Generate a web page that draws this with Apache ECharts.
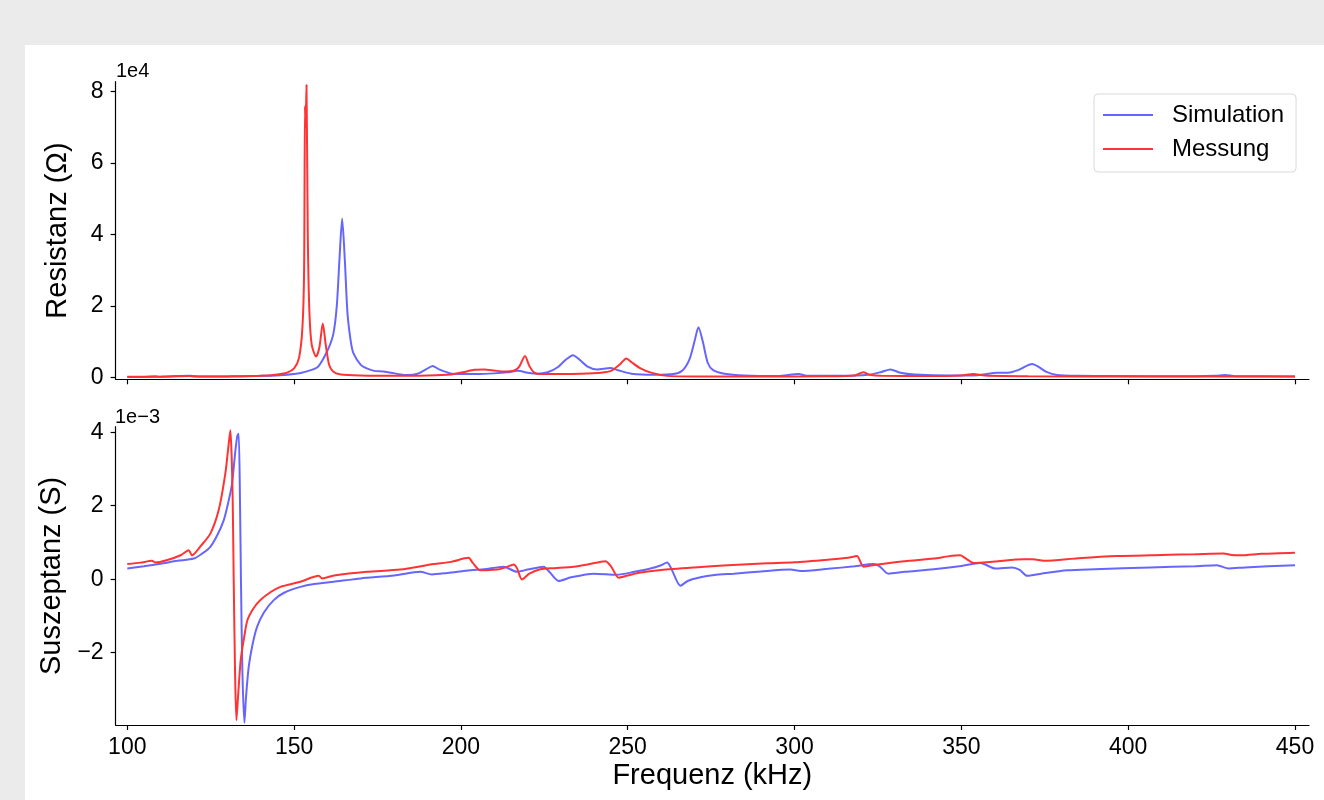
<!DOCTYPE html>
<html>
<head>
<meta charset="utf-8">
<title>Resistanz / Suszeptanz</title>
<script src="https://cdn.jsdelivr.net/npm/echarts@6/dist/echarts.min.js"></script>
<style>
  html, body { margin: 0; padding: 0; background: #ebebeb; }
  #chart { width: 1324px; height: 800px; }
</style>
</head>
<body>
<div id="chart"></div>
<script>
// Achsen-Ticks
const freqTicks = [100, 150, 200, 250, 300, 350, 400, 450]
const resTicks = [0, 20000, 40000, 60000, 80000]
const susTicks = [-2, 0, 2, 4] // in 1e-3 S

// Resistanz, Simulation (kHz / Ohm)
const resFreqSim = [100, 110, 118.9, 122, 130, 140, 146, 150, 152, 155, 157, 158.8, 160.5, 161.8, 162.8, 163.6, 164.4, 165.2, 166, 167, 167.8, 170, 171.8, 174, 176.8, 179, 182, 184, 187, 189.5, 191.5, 193.5, 196.8, 200, 205, 210, 214, 217, 220, 223, 226, 229, 231.5, 233.6, 235.5, 238, 240.8, 244.8, 247, 251.7, 258, 263.7, 266.5, 268.5, 270, 271.2, 272.5, 274, 275.6, 279, 285, 295, 301.2, 304, 315, 322, 326, 328.7, 331.7, 336, 346.7, 355, 360.7, 364, 367, 369.5, 371.2, 373, 375.5, 378.7, 385, 395, 420, 426, 429.1, 432, 450]
const resSim = [100, 150, 400, 200, 250, 400, 600, 900, 1200, 2000, 2800, 5300, 8500, 12300, 20000, 33000, 44500, 33000, 18000, 10000, 6700, 3500, 2500, 1800, 1600, 1300, 800, 650, 1000, 2200, 3200, 2200, 1100, 900, 900, 1100, 1400, 1800, 1300, 1000, 1400, 2800, 5000, 6200, 5000, 3000, 2200, 2600, 2000, 900, 700, 900, 2000, 5000, 10000, 14000, 10000, 4000, 2000, 1000, 500, 350, 900, 400, 400, 700, 1500, 2200, 1300, 800, 500, 600, 1300, 1300, 2000, 3200, 3700, 3000, 1500, 650, 400, 350, 300, 400, 650, 300, 250]

// Resistanz, Messung (kHz / Ohm)
const resFreqMeas = [100, 105, 108.4, 110, 118.8, 120, 130, 140, 145, 147.9, 150, 151.5, 152.5, 153.0, 153.27, 153.45, 153.72, 154.1, 154.6, 155.3, 156.6, 157.6, 158.6, 159.5, 160.5, 161.7, 164, 170, 180, 190, 197, 201, 204, 207, 210, 213, 216, 217.5, 219.2, 220.5, 222, 224, 230, 236, 242, 245, 247.5, 249.6, 251.2, 253.7, 257, 261.8, 270, 290, 310, 318, 320.6, 322.5, 326, 340, 350, 353.6, 357, 370, 400, 430, 450]
const resMeas = [150, 180, 300, 180, 350, 200, 250, 400, 800, 1300, 2500, 5500, 14000, 30000, 76000, 70000, 81900, 40000, 18000, 9000, 5800, 8500, 15100, 9000, 3500, 1600, 800, 500, 400, 500, 800, 1500, 2100, 2200, 1900, 1600, 1900, 3000, 6000, 3200, 1300, 900, 900, 1000, 1300, 1800, 3500, 5300, 4200, 2600, 1300, 400, 250, 250, 280, 500, 1400, 700, 400, 350, 500, 900, 500, 300, 250, 250, 200]

// Suszeptanz, Simulation (kHz / 1e-3 S)
const susFreqSim = [100, 105, 110, 115, 119.9, 122.5, 124.9, 127, 128.9, 130.3, 131.4, 132.4, 133.0, 133.4, 133.8, 134.1, 134.5, 135.1, 135.6, 136.4, 137.5, 138.9, 141, 143.9, 147, 151.9, 156, 161.8, 170, 180, 187.8, 191.3, 196, 202.8, 207, 212.8, 216.8, 220, 224.8, 226.5, 229.3, 233, 239.8, 246.8, 252, 256.8, 260, 261.8, 263, 265.8, 268, 271.8, 276, 281.8, 290, 298.8, 301.8, 310, 318, 323.6, 325.5, 328.1, 333, 341.7, 350, 355.7, 360.2, 365.2, 367.5, 369.7, 374, 381.7, 390, 406.7, 420, 426.6, 430.1, 435, 450]
const susSim = [0.29, 0.35, 0.42, 0.50, 0.56, 0.70, 0.88, 1.2, 1.6, 2.1, 2.6, 3.5, 3.9, 3.96, 2.0, -0.2, -2.5, -3.91, -3.2, -2.39, -1.8, -1.3, -0.9, -0.57, -0.37, -0.21, -0.13, -0.07, 0.02, 0.1, 0.2, 0.13, 0.17, 0.24, 0.27, 0.34, 0.20, 0.26, 0.34, 0.2, -0.05, 0.05, 0.15, 0.12, 0.2, 0.29, 0.38, 0.45, 0.3, -0.18, -0.05, 0.05, 0.11, 0.15, 0.21, 0.26, 0.22, 0.28, 0.35, 0.41, 0.35, 0.15, 0.20, 0.27, 0.36, 0.44, 0.29, 0.32, 0.25, 0.09, 0.15, 0.24, 0.27, 0.32, 0.35, 0.38, 0.29, 0.32, 0.38]

// Suszeptanz, Messung (kHz / 1e-3 S)
const susFreqMeas = [100, 104, 107.4, 108.5, 112, 116, 118.4, 119.4, 122, 124.9, 127.4, 129.4, 130.3, 130.9, 131.3, 131.6, 131.9, 132.3, 132.7, 133.2, 134, 135, 136, 137.8, 139.9, 143, 145.9, 151.9, 157.4, 158.4, 162, 171.8, 181.8, 191.8, 197, 202.3, 203.5, 205.8, 210.8, 213.5, 215.8, 216.8, 218.3, 220.5, 223.8, 228, 233.8, 238, 243.3, 245, 247.3, 250, 253.8, 260, 270, 280, 291.8, 300, 310, 316, 318.7, 320.7, 325, 333, 341.7, 346, 349.7, 351.5, 353.7, 360, 368.7, 371.5, 374.7, 385, 396.7, 410, 420, 428.6, 431, 433.6, 440, 450]
const susMeas = [0.41, 0.45, 0.50, 0.45, 0.52, 0.65, 0.79, 0.65, 0.9, 1.24, 1.88, 2.88, 3.6, 4.05, 3.3, 2.15, 0.0, -2.5, -3.84, -3.2, -2.2, -1.6, -1.12, -0.8, -0.57, -0.35, -0.21, -0.07, 0.09, 0.02, 0.10, 0.20, 0.26, 0.41, 0.47, 0.58, 0.45, 0.24, 0.26, 0.32, 0.40, 0.30, -0.01, 0.15, 0.27, 0.30, 0.34, 0.40, 0.49, 0.35, 0.04, 0.10, 0.18, 0.25, 0.32, 0.38, 0.43, 0.46, 0.53, 0.58, 0.63, 0.34, 0.40, 0.49, 0.56, 0.62, 0.65, 0.55, 0.44, 0.48, 0.54, 0.54, 0.50, 0.57, 0.63, 0.66, 0.68, 0.70, 0.66, 0.65, 0.69, 0.72]

const FONT = '"Liberation Sans", Arial, sans-serif'
const BLUE = '#6666ff'
const RED = '#ff3333'

function pairs (xs, ys) {
  return xs.map((x, i) => [x, ys[i]])
}

// matplotlib benutzt das echte Minuszeichen
function fmtMinus (v) {
  return v < 0 ? '\u2212' + Math.abs(v) : String(v)
}

const chart = echarts.init(document.getElementById('chart'))

const axisLineStyle = { color: '#000', width: 1.2 }
const labelStyle = { color: '#000', fontSize: 23, fontFamily: FONT }
const nameStyle = { color: '#000', fontSize: 29, fontFamily: FONT }

function xAxisOf (grid, showLabels) {
  return {
    type: 'value',
    gridIndex: grid,
    min: 96.5,
    max: 454.2,
    axisLine: { show: true, onZero: false, lineStyle: axisLineStyle },
    axisTick: { show: true, length: 5, lineStyle: axisLineStyle, customValues: freqTicks },
    axisLabel: Object.assign({ show: showLabels, margin: 11, customValues: freqTicks }, labelStyle),
    splitLine: { show: false },
    name: showLabels ? 'Frequenz (kHz)' : '',
    nameLocation: 'middle',
    nameGap: 36,
    nameTextStyle: nameStyle
  }
}

const option = {
  animation: false,
  backgroundColor: '#ebebeb',
  textStyle: { fontFamily: FONT },
  graphic: [
    { type: 'rect', z: -10, shape: { x: 25, y: 45, width: 1299, height: 755 }, style: { fill: '#fff' } },
    { type: 'text', left: 116, top: 61, style: { text: '1e4', fontSize: 20, fontFamily: FONT, fill: '#000' } },
    { type: 'text', left: 115, top: 407, style: { text: '1e\u22123', fontSize: 20, fontFamily: FONT, fill: '#000' } }
  ],
  legend: {
    data: ['Simulation', 'Messung'],
    orient: 'vertical',
    left: 1094,
    top: 94,
    icon: 'rect',
    itemWidth: 50,
    itemHeight: 2,
    itemGap: 10,
    padding: [9, 12, 11, 9],
    borderColor: '#d9d9d9',
    borderWidth: 1,
    borderRadius: 4,
    backgroundColor: '#fff',
    textStyle: { color: '#000', fontSize: 24, fontFamily: FONT, padding: [0, 0, 0, 14] }
  },
  grid: [
    { left: 115.6, right: 15, top: 81.7, height: 297.6 },
    { left: 115.6, right: 15, top: 426.7, height: 298.3 }
  ],
  xAxis: [xAxisOf(0, false), xAxisOf(1, true)],
  yAxis: [
    {
      type: 'value',
      gridIndex: 0,
      min: -560,
      max: 82800,
      axisLine: { show: true, onZero: false, lineStyle: axisLineStyle },
      axisTick: { show: true, length: 5, lineStyle: axisLineStyle, customValues: resTicks },
      axisLabel: Object.assign({ margin: 12, customValues: resTicks, formatter: v => String(v / 1e4) }, labelStyle),
      splitLine: { show: false },
      name: 'Resistanz (\u03a9)',
      nameLocation: 'middle',
      nameGap: 43,
      nameTextStyle: nameStyle
    },
    {
      type: 'value',
      gridIndex: 1,
      min: -3.97,
      max: 4.15,
      axisLine: { show: true, onZero: false, lineStyle: axisLineStyle },
      axisTick: { show: true, length: 5, lineStyle: axisLineStyle, customValues: susTicks },
      axisLabel: Object.assign({ margin: 12, customValues: susTicks, formatter: fmtMinus }, labelStyle),
      splitLine: { show: false },
      name: 'Suszeptanz (S)',
      nameLocation: 'middle',
      nameGap: 43,
      nameTextStyle: nameStyle
    }
  ],
  series: [
    {
      name: 'Simulation', type: 'line', xAxisIndex: 0, yAxisIndex: 0,
      data: pairs(resFreqSim, resSim), showSymbol: false, smooth: 0.25,
      lineStyle: { color: BLUE, width: 2 }, itemStyle: { color: BLUE }
    },
    {
      name: 'Messung', type: 'line', xAxisIndex: 0, yAxisIndex: 0,
      data: pairs(resFreqMeas, resMeas), showSymbol: false, smooth: 0.25,
      lineStyle: { color: RED, width: 2 }, itemStyle: { color: RED }
    },
    {
      name: 'Simulation', type: 'line', xAxisIndex: 1, yAxisIndex: 1,
      data: pairs(susFreqSim, susSim), showSymbol: false, smooth: 0.25,
      lineStyle: { color: BLUE, width: 2 }, itemStyle: { color: BLUE }
    },
    {
      name: 'Messung', type: 'line', xAxisIndex: 1, yAxisIndex: 1,
      data: pairs(susFreqMeas, susMeas), showSymbol: false, smooth: 0.25,
      lineStyle: { color: RED, width: 2 }, itemStyle: { color: RED }
    }
  ]
}

chart.setOption(option)
</script>
</body>
</html>
